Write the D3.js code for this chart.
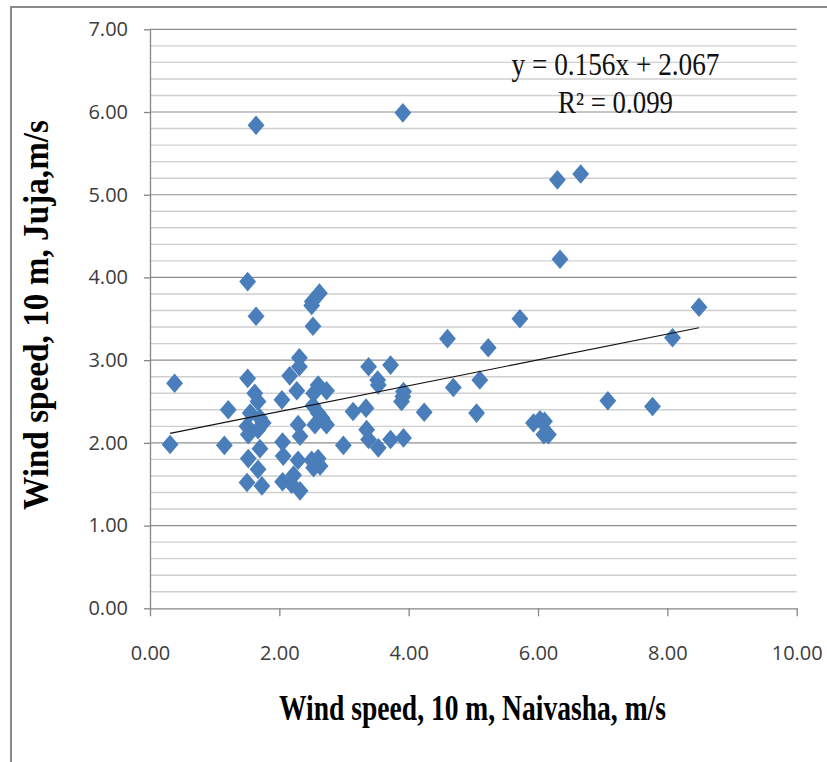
<!DOCTYPE html>
<html>
<head>
<meta charset="utf-8">
<script src="https://cdn.jsdelivr.net/npm/d3@7"></script>
<style>
  html, body { margin: 0; padding: 0; background: #ffffff; }
  svg { display: block; }
</style>
</head>
<body>
<svg id="chart" width="827" height="762"></svg>
<script>
// ---------------- data ----------------
const naivasha = [
  0.31, 0.38, 1.15, 1.21, 1.51, 1.64, 1.64, 1.51, 1.62, 1.67,
  1.55, 1.70, 1.50, 1.67, 1.52, 1.75, 1.70, 1.52, 1.67, 1.50,
  1.73, 2.05, 2.06, 2.05, 2.04, 2.16, 2.27, 2.31, 2.31, 2.29,
  2.32, 2.29, 2.22, 2.19, 2.32, 2.51, 2.62, 2.50, 2.52, 2.53,
  2.60, 2.73, 2.52, 2.60, 2.55, 2.73, 2.66, 2.99, 2.50, 2.60,
  2.53, 2.63, 3.14, 3.34, 3.38, 3.72, 3.52, 3.53, 3.92, 3.91,
  3.89, 3.35, 3.38, 3.53, 3.72, 3.92, 3.91, 4.24, 4.60, 4.69,
  5.10, 5.05, 5.23, 5.72, 6.30, 6.66, 6.34, 5.93, 6.03, 6.10,
  6.09, 6.16, 7.08, 7.77, 8.08, 8.49
];
const juja = [
  1.98, 2.72, 1.97, 2.40, 3.95, 5.84, 3.53, 2.78, 2.60, 2.50,
  2.36, 2.30, 2.20, 2.16, 2.10, 2.24, 1.93, 1.81, 1.68, 1.52,
  1.48, 2.01, 1.84, 1.53, 2.52, 2.81, 2.63, 3.03, 2.92, 2.22,
  2.08, 1.79, 1.61, 1.50, 1.42, 3.71, 3.81, 3.66, 3.41, 2.60,
  2.70, 2.63, 2.45, 2.36, 2.22, 2.22, 2.30, 1.97, 1.79, 1.81,
  1.70, 1.72, 2.38, 2.42, 2.92, 2.94, 2.76, 2.70, 2.62, 2.56,
  2.50, 2.16, 2.04, 1.94, 2.04, 2.06, 5.99, 2.37, 3.26, 2.67,
  2.76, 2.36, 3.15, 3.50, 5.18, 5.25, 4.22, 2.24, 2.28, 2.26,
  2.10, 2.10, 2.51, 2.44, 3.27, 3.64
];
const xTickValues = [0, 2, 4, 6, 8, 10];
const yTickValues = [0, 1, 2, 3, 4, 5, 6, 7];
const trendSlope = 0.156;
const trendIntercept = 2.067;
const trendR2 = 0.099;
const xTitle = "Wind speed, 10 m, Naivasha, m/s";
const yTitle = "Wind speed, 10 m, Juja,m/s";

// ---------------- layout ----------------
const svg = d3.select("#chart");
const x = d3.scaleLinear().domain([0, 10]).range([150, 796.7]);
const y = d3.scaleLinear().domain([0, 7]).range([608.3, 29.3]);
const fmt = d3.format(".2f");

// outer frame (left + top edges visible)
svg.append("path")
  .attr("d", "M11,762 L11,7 L827,7")
  .attr("fill", "none").attr("stroke", "#8a8a8a").attr("stroke-width", 2);

// minor gridlines every 0.2
const minor = d3.range(1, 35).filter(i => i % 5 !== 0).map(i => i / 5);
svg.append("g").selectAll("line").data(minor).join("line")
  .attr("x1", x(0)).attr("x2", x(10))
  .attr("y1", d => y(d)).attr("y2", d => y(d))
  .attr("stroke", "#cfcfcf").attr("stroke-width", 1.4);
// major gridlines
svg.append("g").selectAll("line").data(yTickValues.filter(d => d > 0)).join("line")
  .attr("x1", x(0)).attr("x2", x(10))
  .attr("y1", d => y(d)).attr("y2", d => y(d))
  .attr("stroke", "#8e8e8e").attr("stroke-width", 1.2);

// axes
const yAxis = svg.append("g").attr("transform", `translate(${x(0)},0)`)
  .call(d3.axisLeft(y).tickValues(yTickValues).tickFormat(fmt).tickSize(6).tickSizeOuter(0).tickPadding(16));
const xAxis = svg.append("g").attr("transform", `translate(0,${y(0)})`)
  .call(d3.axisBottom(x).tickValues(xTickValues).tickFormat(fmt).tickSize(8).tickSizeOuter(0).tickPadding(30));
[yAxis, xAxis].forEach(g => {
  g.select(".domain").attr("stroke", "#868686").attr("stroke-width", 1.3);
  g.selectAll(".tick line").attr("stroke", "#868686").attr("stroke-width", 1.3);
  g.selectAll(".tick text")
    .attr("fill", "#3c3c3c")
    .style("font-family", "'Open Sans', sans-serif")
    .style("font-size", "20px");
});

// markers (diamonds)
const diamond = {
  draw(ctx, size) {
    const hh = Math.sqrt(size) / 2;   // half height
    const hw = hh * 0.86;             // half width
    ctx.moveTo(0, -hh); ctx.lineTo(hw, 0); ctx.lineTo(0, hh); ctx.lineTo(-hw, 0); ctx.closePath();
  }
};
const pts = naivasha.map((v, i) => ({ xv: v, yv: juja[i] }));
svg.append("g").selectAll("path").data(pts).join("path")
  .attr("transform", d => `translate(${x(d.xv)},${y(d.yv)})`)
  .attr("d", d3.symbol().type(diamond).size(19.6 * 19.6))
  .attr("fill", "#4a7ebb");

// trendline (over markers)
const xExt = d3.extent(naivasha);
svg.append("line")
  .attr("x1", x(xExt[0])).attr("y1", y(trendSlope * xExt[0] + trendIntercept))
  .attr("x2", x(xExt[1])).attr("y2", y(trendSlope * xExt[1] + trendIntercept))
  .attr("stroke", "#111").attr("stroke-width", 1.2);

// equation
svg.append("text")
  .attr("x", 615.5).attr("y", 75).attr("text-anchor", "middle")
  .attr("textLength", 208).attr("lengthAdjust", "spacingAndGlyphs")
  .style("font-family", "'Liberation Serif', 'Times New Roman', serif")
  .style("font-size", "31px").attr("fill", "#111")
  .text(`y = ${trendSlope.toFixed(3)}x + ${trendIntercept.toFixed(3)}`);
svg.append("text")
  .attr("x", 615.5).attr("y", 113).attr("text-anchor", "middle")
  .attr("textLength", 115).attr("lengthAdjust", "spacingAndGlyphs")
  .style("font-family", "'Liberation Serif', 'Times New Roman', serif")
  .style("font-size", "31px").attr("fill", "#111")
  .text(`R² = ${trendR2.toFixed(3)}`);

// axis titles
svg.append("text")
  .attr("x", 472.5).attr("y", 720).attr("text-anchor", "middle")
  .attr("textLength", 387).attr("lengthAdjust", "spacingAndGlyphs")
  .style("font-family", "'Liberation Serif', 'Times New Roman', serif")
  .style("font-size", "35px").style("font-weight", "bold").attr("fill", "#000")
  .text(xTitle);
svg.append("text")
  .attr("transform", "translate(48,315) rotate(-90)")
  .attr("text-anchor", "middle")
  .attr("textLength", 390).attr("lengthAdjust", "spacingAndGlyphs")
  .style("font-family", "'Liberation Serif', 'Times New Roman', serif")
  .style("font-size", "35px").style("font-weight", "bold").attr("fill", "#000")
  .text(yTitle);
</script>
</body>
</html>
